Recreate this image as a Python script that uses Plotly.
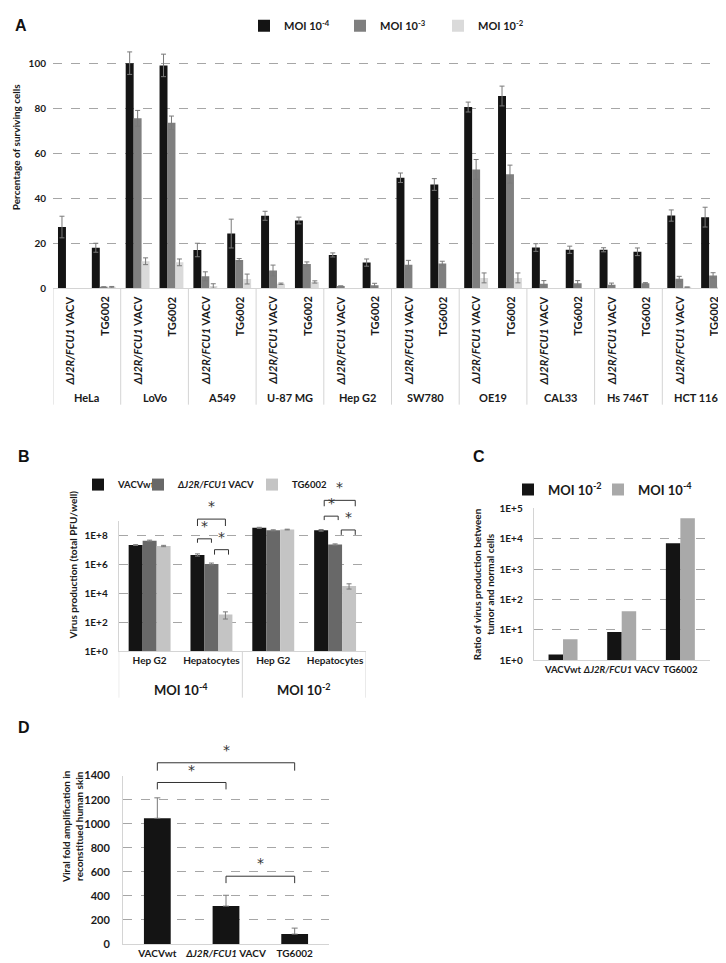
import plotly.graph_objects as go

W, H = 726, 963

# ---------------- panel A: surviving cells (%) ----------------
cell_lines = ["HeLa", "LoVo", "A549", "U-87 MG", "Hep G2",
              "SW780", "OE19", "CAL33", "Hs 746T", "HCT 116"]
a_viruses = ["<i>ΔJ2R/FCU1</i> VACV", "TG6002"]
a_moi_names = ["MOI 10<sup>-4</sup>", "MOI 10<sup>-3</sup>", "MOI 10<sup>-2</sup>"]
# order: for each cell line -> ΔJ2R/FCU1 VACV, TG6002
a_moi4 = [27.2, 18.0, 100, 99, 17.0, 24.3, 32.2, 30.1, 14.8, 11.4,
          49.1, 46.1, 80.5, 85.4, 18.1, 17.1, 17.1, 16.2, 32.3, 31.6]
a_moi4_err = [4.8, 2.0, 5.0, 5.0, 3.0, 6.4, 2.0, 1.5, 0.9, 1.6,
              2.1, 2.6, 2.2, 4.4, 1.7, 1.6, 0.9, 1.7, 2.5, 4.4]
a_moi3 = [None, 0.5, 75.5, 73.5, 5.3, 12.6, 7.9, 10.8, 1.0, 1.3,
          10.5, 11.0, 52.8, 50.7, 2.0, 2.2, 1.6, 2.2, 4.2, 5.7]
a_moi3_err = [0, 0.2, 3.5, 3.0, 2.0, 0.6, 2.4, 0.9, 0, 0.9,
              1.9, 1.0, 4.4, 4.0, 1.4, 1.2, 0.7, 0.3, 1.1, 1.2]
a_moi2 = [None, 0.5, 12.0, 11.5, 1.0, 4.1, 2.0, 2.8, None, None,
          None, None, 4.6, 4.6, None, None, None, None, 0.5, 0.5]
a_moi2_err = [0, 0.3, 1.5, 1.5, 1.0, 2.2, 0.3, 0.5, 0, 0,
              0, 0, 2.2, 2.2, 0, 0, 0, 0, 0, 0]

# ---------------- panel B: virus production ----------------
b_cells = ["Hep G2", "Hepatocytes", "Hep G2", "Hepatocytes"]
b_moi = ["MOI 10<sup>-4</sup>", "MOI 10<sup>-2</sup>"]
b_names = ["VACVwt", "<i>ΔJ2R/FCU1</i> VACV", "TG6002"]
b_vacvwt = [2.2e7, 4.6e6, 3.4e8, 2.3e8]
b_vacvwt_err = [1.5e6, 8e5, 3e7, 3e7]
b_dj2r = [4.4e7, 1.1e6, 2.3e8, 2.4e7]
b_dj2r_err = [4e6, 1.5e5, 2e7, 2.5e6]
b_tg = [1.9e7, 3.5e2, 2.6e8, 3.3e4]
b_tg_err = [2e6, 1.8e2, 1.5e7, 1.3e4]
b_ticks = [1, 1e2, 1e4, 1e6, 1e8]
b_ticktext = ["1E+0", "1E+2", "1E+4", "1E+6", "1E+8"]

# ---------------- panel C: tumour / normal ratio ----------------
c_viruses = ["VACVwt", "<i>ΔJ2R/FCU1</i> VACV", "TG6002"]
c_names = ["MOI 10<sup>-2</sup>", "MOI 10<sup>-4</sup>"]
c_moi2 = [1.53, 8.5, 7100]
c_moi4 = [4.9, 41, 47000]
c_ticks = [1, 10, 100, 1e3, 1e4, 1e5]
c_ticktext = ["1E+0", "1E+1", "1E+2", "1E+3", "1E+4", "1E+5"]

# ---------------- panel D: reconstituted skin ----------------
d_viruses = ["VACVwt", "<i>ΔJ2R/FCU1</i> VACV", "TG6002"]
d_values = [1045, 315, 82]
d_err = [170, 90, 50]

FONT = "Lato"
TXT = "#1a1a1a"
BLK = "#141414"
GRID = "#a6a6a6"
AXL = "#d4d4d4"
ERR = "#7a7a7a"


def fx(p):
    return p / W


def fy(p):
    return 1 - p / H


fig = go.Figure()

# panel A bars
aw = 0.235
ax_pos = list(range(len(a_moi4)))
for k, (vals, errs, col) in enumerate([(a_moi4, a_moi4_err, BLK),
                                        (a_moi3, a_moi3_err, "#7f7f7f"),
                                        (a_moi2, a_moi2_err, "#dadada")]):
    fig.add_trace(go.Bar(
        x=ax_pos, y=vals, width=aw, offset=(k - 1.5) * aw,
        marker=dict(color=col, line=dict(width=0)),
        error_y=dict(type="data", array=errs, color=ERR, thickness=1, width=2.5),
        name=a_moi_names[k], legend="legend" if k == 0 else "legend%d" % (k + 1),
        xaxis="x", yaxis="y"))

# panel B bars
bw = 0.226
for k, (vals, errs, col) in enumerate([(b_vacvwt, b_vacvwt_err, BLK),
                                        (b_dj2r, b_dj2r_err, "#686868"),
                                        (b_tg, b_tg_err, "#c4c4c4")]):
    fig.add_trace(go.Bar(
        x=list(range(4)), y=vals, width=bw, offset=(k - 1.5) * bw,
        marker=dict(color=col, line=dict(width=0)),
        error_y=dict(type="data", array=errs, color=ERR, thickness=1, width=2.5),
        name=b_names[k], legend="legend%d" % (k + 4),
        xaxis="x2", yaxis="y2"))

# panel C bars
cw = 0.247
for k, (vals, col) in enumerate([(c_moi2, BLK), (c_moi4, "#a9a9a9")]):
    fig.add_trace(go.Bar(
        x=list(range(3)), y=vals, width=cw, offset=(k - 1) * cw,
        marker=dict(color=col, line=dict(width=0)),
        name=c_names[k], legend="legend%d" % (k + 7),
        xaxis="x3", yaxis="y3"))

# panel D bars
dw = 0.39
fig.add_trace(go.Bar(
    x=list(range(3)), y=d_values, width=dw, offset=-dw / 2,
    marker=dict(color=BLK, line=dict(width=0)),
    error_y=dict(type="data", symmetric=False, array=d_err,
                 arrayminus=[0] * len(d_err), color=ERR, thickness=1, width=3),
    showlegend=False, xaxis="x4", yaxis="y4"))

grid = dict(showgrid=True, gridcolor=GRID, griddash="dash", gridwidth=1,
            zeroline=False, ticks="", tickfont=dict(size=10, weight="bold", color=TXT))
xbase = dict(showgrid=False, zeroline=False, ticks="", showline=True,
             linecolor=AXL, linewidth=1, tickangle=0)
xfont = dict(size=10, weight="bold", color=TXT)

fig.update_layout(
    width=W, height=H, margin=dict(l=0, r=0, t=0, b=0),
    paper_bgcolor="white", plot_bgcolor="white", barmode="overlay",
    font=dict(family=FONT, size=10, color=TXT),
    xaxis=dict(xbase, domain=[fx(45), fx(722)], range=[-0.5, 19.5],
               showticklabels=False),
    yaxis=dict(grid, domain=[fy(277), fy(26)], range=[0, 110],
               tickvals=[0, 20, 40, 60, 80, 100], ticklabelstandoff=6,
               anchor="x"),
    xaxis2=dict(xbase, domain=[fx(110.7), fx(358)], range=[-0.5, 3.5],
                tickvals=list(range(4)), ticktext=b_cells, tickfont=xfont,
                anchor="y2"),
    yaxis2=dict(grid, type="log", domain=[fy(645), fy(513)], range=[0, 9],
                tickvals=b_ticks, ticktext=b_ticktext, showline=True,
                linecolor=AXL, ticklabelstandoff=8, anchor="x2"),
    xaxis3=dict(xbase, domain=[fx(525.7), fx(701.7)], range=[-0.5, 2.5],
                tickvals=list(range(3)), ticktext=c_viruses,
                tickfont=dict(xfont, size=9.5), anchor="y3"),
    yaxis3=dict(grid, type="log", domain=[fy(654), fy(500)], range=[0, 5],
                tickvals=c_ticks, ticktext=c_ticktext, showline=True,
                linecolor=AXL, ticklabelstandoff=8, anchor="x3"),
    xaxis4=dict(xbase, domain=[fx(115), fx(321)], range=[-0.5, 2.5],
                tickvals=list(range(3)), ticktext=d_viruses, tickfont=xfont,
                anchor="y4"),
    yaxis4=dict(grid, domain=[fy(941.7), fy(771)], range=[0, 1400], dtick=200,
                showline=True, linecolor=AXL, ticklabelstandoff=10,
                tickfont=dict(size=11, weight="bold", color=TXT), anchor="x4"),
)

# one legend per entry so each can be placed where the original has it
leg_font = dict(family=FONT, size=11, weight="bold", color=TXT)
legend_spots = {
    "legend": (236, 11, 11), "legend2": (332, 11, 11), "legend3": (430, 11, 11),
    "legend4": (70, 476, 9.5), "legend5": (130, 476, 9.5), "legend6": (244, 476, 9.5),
    "legend7": (500, 481, 13), "legend8": (590, 481, 13),
}
for name, (px, py, size) in legend_spots.items():
    fig.update_layout({name: dict(x=fx(px), y=fy(py), xanchor="left", yanchor="middle",
                                  orientation="h", bgcolor="rgba(0,0,0,0)",
                                  font=dict(leg_font, size=size), itemwidth=30)})

ann = []
shapes = []

# panel letters
for letter, px, py in [("A", 5, 11), ("B", 8, 448), ("C", 463, 448), ("D", 8, 722)]:
    ann.append(dict(text=letter, x=fx(px), y=fy(py), xref="paper", yref="paper",
                    xanchor="left", yanchor="middle", showarrow=False,
                    font=dict(family="Liberation Sans", size=16, weight="bold", color="#111")))

# panel A category labels and dividers
for i, cl in enumerate(cell_lines):
    ann.append(dict(text=cl, x=2 * i + 0.5, y=fy(388), xref="x", yref="paper",
                    xanchor="center", yanchor="middle",
                    showarrow=False, font=dict(size=11, weight="bold")))
    for j, v in enumerate(a_viruses):
        ann.append(dict(text=v, x=2 * i + j, y=fy(283), xref="x", yref="paper",
                        textangle=-90, xanchor="center", yanchor="top",
                        showarrow=False, font=dict(size=11, weight="bold")))
for k in range(len(cell_lines) + 1):
    shapes.append(dict(type="line", xref="x", yref="paper", x0=2 * k - 0.5, x1=2 * k - 0.5,
                       y0=fy(277), y1=fy(395), line=dict(color=AXL, width=1)))

# panel B group labels / dividers
for i, m in enumerate(b_moi):
    ann.append(dict(text=m, x=2 * i + 0.5, y=fy(684), xref="x2", yref="paper",
                    xanchor="center", yanchor="middle",
                    showarrow=False, font=dict(size=13, weight="bold")))
for xv in [-0.5, 1.5, 3.5]:
    shapes.append(dict(type="line", xref="x2", yref="paper", x0=xv, x1=xv,
                       y0=fy(645), y1=fy(692), line=dict(color=AXL, width=1)))

# y titles
for text, px, py, size in [
        ("Percentage of surviving cells", 8, 134, 10),
        ("Virus production (total PFU/well)", 65, 558, 10),
        ("Ratio of virus production between<br>tumor and normal cells", 475, 577, 10),
        ("Viral fold amplification in<br>reconstitued human skin", 65, 823, 10)]:
    ann.append(dict(text=text, x=fx(px), y=fy(py), xref="paper", yref="paper",
                    xanchor="center", yanchor="middle",
                    textangle=-90, showarrow=False,
                    font=dict(size=size, weight="bold")))


# significance brackets: (xref, x0, x1, top_px, leg_px)
def bar_x(group, k, w, n):
    return group + (k - (n - 1) / 2) * w


sig = [
    ("x2", bar_x(1, 0, bw, 3), bar_x(1, 1, bw, 3), 531, 535),
    ("x2", bar_x(1, 0, bw, 3), bar_x(1, 2, bw, 3), 511, 518),
    ("x2", bar_x(1, 1, bw, 3) + 0.05, bar_x(1, 2, bw, 3) + 0.05, 542, 547),
    ("x2", bar_x(3, 0, bw, 3) + 0.05, bar_x(3, 1, bw, 3) + 0.05, 508, 512),
    ("x2", bar_x(3, 0, bw, 3) + 0.05, bar_x(3, 2, bw, 3) + 0.1, 492, 498),
    ("x2", bar_x(3, 1, bw, 3) + 0.1, bar_x(3, 2, bw, 3) + 0.1, 522, 527),
    ("x4", 0, 1, 778, 785),
    ("x4", 0, 2, 758, 766),
    ("x4", 1, 2, 873, 880),
]
for xr, x0, x1, top, leg in sig:
    shapes.append(dict(type="path", xref=xr, yref="paper",
                       path="M %f,%f L %f,%f L %f,%f L %f,%f" % (
                           x0, fy(leg), x0, fy(top), x1, fy(top), x1, fy(leg)),
                       line=dict(color="#333", width=1)))
    ann.append(dict(text="*", x=(x0 + x1) / 2, y=fy(top - 3), xref=xr, yref="paper",
                    xanchor="center", yanchor="bottom", showarrow=False,
                    font=dict(family="DejaVu Sans", size=14, color="#333")))

fig.update_layout(annotations=ann, shapes=shapes)

fig.write_html("out.html")
